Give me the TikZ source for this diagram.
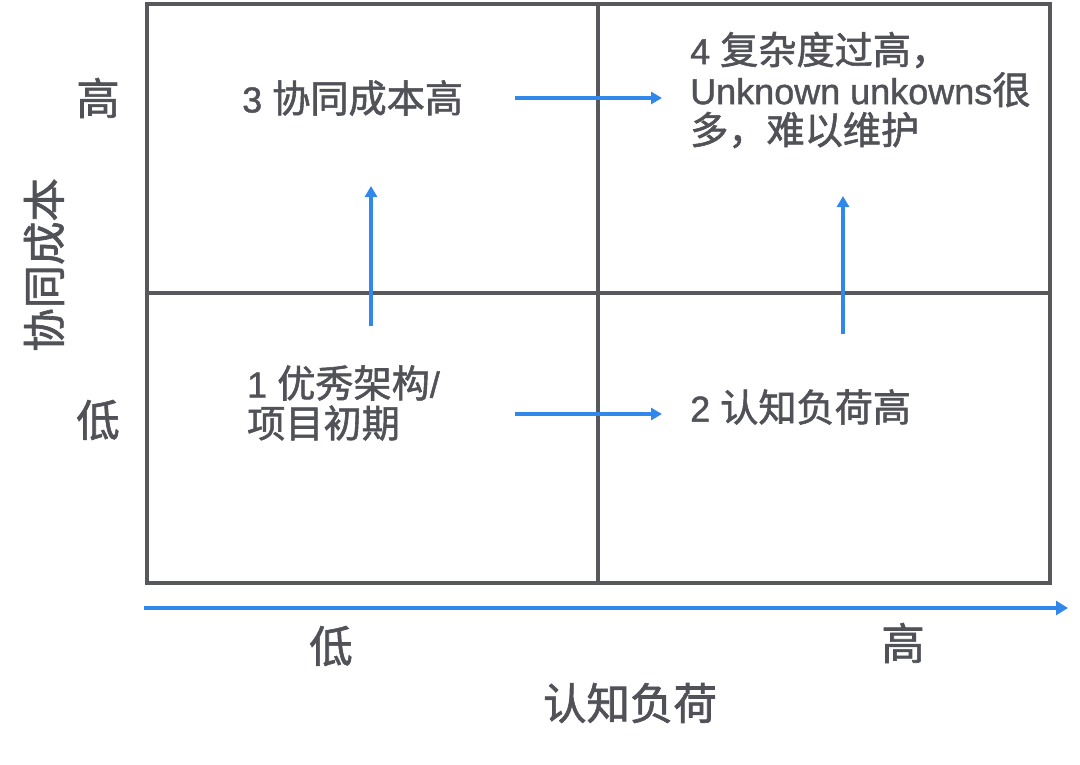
\documentclass[tikz,border=0pt]{standalone}
\usepackage{fontspec}
\setmainfont{Liberation Sans}[FakeBold=1.2]
\newfontfamily\cjk{Noto Sans CJK SC}[FakeBold=1.5, Scale=1.06]
\definecolor{GridGray}{RGB}{86,88,92}
\definecolor{TextGray}{RGB}{80,82,88}
\definecolor{ArrowBlue}{RGB}{50,135,235}
\usetikzlibrary{arrows.meta}

\tikzset{
  gridline/.style={GridGray, line width=4.5pt},
  flow/.style={ArrowBlue, line width=3.5pt, -{Triangle[length=11pt, width=12pt]}},
  quadtext/.style={TextGray, anchor=west, align=left, inner sep=0pt, font=\fontsize{36}{40}\selectfont},
  axistext/.style={TextGray, inner sep=0pt, font=\fontsize{41}{48}\selectfont\cjk},
}

\begin{document}
\begin{tikzpicture}[x=1pt, y=-1pt]
          \useasboundingbox (0,0) rectangle (1080,764);
          % quadrant grid
          \draw[gridline] (147,4) rectangle (1050,583);
          \draw[gridline] (598,4) -- (598,583);
          \draw[gridline] (147,293) -- (1050,293);
          % quadrant labels
          \node[quadtext] (q3) at (242,98) {3 {\cjk 协同成本高}};
          \node[quadtext] (q4) at (690,90) {4 {\cjk 复杂度过高，}\\Unknown unkowns{\cjk 很}\\{\cjk 多，难以维护}};
          \node[quadtext] (q1) at (247,403) {1 {\cjk 优秀架构}/\\{\cjk 项目初期}};
          \node[quadtext] (q2) at (690,407) {2 {\cjk 认知负荷高}};
          % transitions
          \coordinate (lowRight) at (515,414);
          \coordinate (lowRightEnd) at (662,414);
          \coordinate (topRight) at (515,98);
          \coordinate (topRightEnd) at (662,98);
          \coordinate (leftUp) at (371,326);
          \coordinate (leftUpEnd) at (371,186);
          \coordinate (rightUp) at (843,334);
          \coordinate (rightUpEnd) at (843,196);
          \draw[flow] (lowRight) -- (lowRightEnd);
          \draw[flow] (topRight) -- (topRightEnd);
          \draw[flow] (leftUp) -- (leftUpEnd);
          \draw[flow] (rightUp) -- (rightUpEnd);
          % axes
          \coordinate (xStart) at (144,608);
          \coordinate (xEnd) at (1068,608);
          \draw[ArrowBlue, line width=4.5pt, -{Triangle[length=12pt, width=14pt]}] (xStart) -- (xEnd);
          \node[axistext] (yHigh) at (98,98) {高};
          \node[axistext] (yLow) at (98,420) {低};
          \node[axistext, rotate=90] (yName) at (44,265) {协同成本};
          \node[axistext] (xLow) at (331,646) {低};
          \node[axistext] (xHigh) at (903,643) {高};
          \node[axistext] (xName) at (630,703) {认知负荷};
        \end{tikzpicture}
\end{document}
